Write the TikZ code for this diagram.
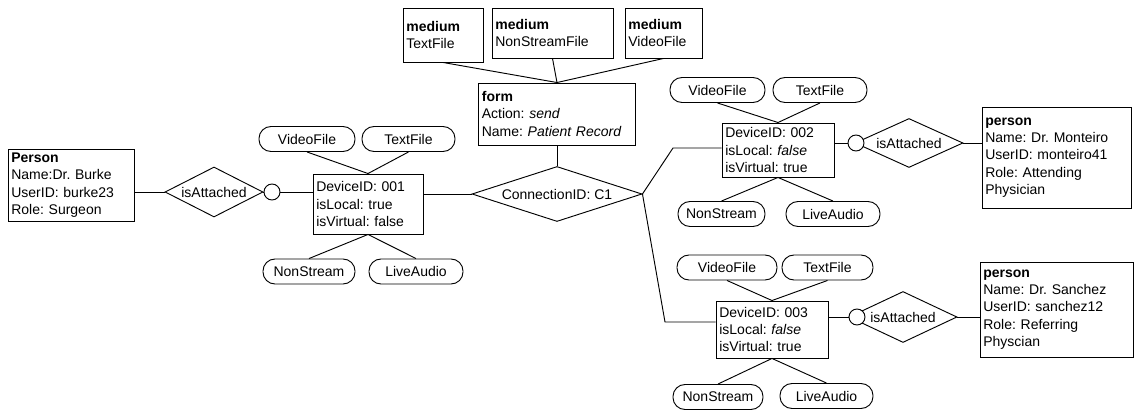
\documentclass[tikz,border=0pt]{standalone}
\usepackage{fontspec}
\setmainfont{Liberation Sans}
\frenchspacing
\usetikzlibrary{positioning,shapes.geometric}

\begin{document}
\begin{tikzpicture}[x=0.75pt, y=-0.75pt, line width=0.7pt,
  font=\fontsize{10.5}{13}\selectfont,
  ent/.style={draw, rectangle, align=left, inner sep=2.5pt},
  attr/.style={draw, rectangle, rounded corners=9pt, minimum height=25*\pxu, inner sep=1pt},
  rel/.style={draw, diamond, inner sep=0pt},
  ring/.style={draw, fill=white, circle, minimum size=16*\pxu, inner sep=0pt}]
\def\pxu{0.75pt}
\useasboundingbox (0,0) rectangle (1136,410);

% Media and form
\node[ent, text width=80*\pxu-5pt, minimum height=54*\pxu] (m1) at (443,35) {\textbf{medium}\\TextFile};
\node[ent, text width=121*\pxu-5pt, minimum height=50*\pxu] (m2) at (552.5,33) {\textbf{medium}\\NonStreamFile};
\node[ent, text width=77*\pxu-5pt, minimum height=50*\pxu] (m3) at (663.5,33) {\textbf{medium}\\VideoFile};
\node[ent, text width=157*\pxu-5pt, minimum height=62*\pxu] (form) at (557,114) {\textbf{form}\\Action: \textit{send}\\Name: \textit{Patient Record}};

% Connection
\node[rel, minimum width=170*\pxu, minimum height=55*\pxu, aspect=3.1] (c1) at (557,194) {ConnectionID: C1};

% Device 001 (Dr. Burke)
\node[ent, text width=126*\pxu-5pt, minimum height=72*\pxu] (burke) at (71,185) {\textbf{Person}\\Name:Dr. Burke\\UserID: burke23\\Role: Surgeon};
\node[rel, minimum width=98*\pxu, minimum height=50*\pxu, aspect=2] (att1) at (214,192) {isAttached};
\node[ring] (o1) at (272,192) {};
\node[ent, text width=110*\pxu-5pt, minimum height=60*\pxu] (dev1) at (368,204) {DeviceID: 001\\isLocal: true\\isVirtual: false};
\node[attr, minimum width=96*\pxu] (v1) at (307,139) {VideoFile};
\node[attr, minimum width=93*\pxu] (t1) at (408.5,139) {TextFile};
\node[attr, minimum width=92*\pxu] (n1) at (309,271.5) {NonStream};
\node[attr, minimum width=94*\pxu] (l1) at (416,271.5) {LiveAudio};

% Device 002 (Dr. Monteiro)
\node[ent, text width=112*\pxu-5pt, minimum height=54*\pxu] (dev2) at (778,150) {DeviceID: 002\\isLocal: \textit{false}\\isVirtual: true};
\node[attr, minimum width=95*\pxu] (v2) at (717.5,90) {VideoFile};
\node[attr, minimum width=94*\pxu] (t2) at (820,90) {TextFile};
\node[attr, minimum width=87*\pxu] (n2) at (721.5,214) {NonStream};
\node[attr, minimum width=94*\pxu] (l2) at (833,214) {LiveAudio};
\node[rel, minimum width=108*\pxu, minimum height=49*\pxu, aspect=2.2] (att2) at (909,143) {isAttached};
\node[ring] (o2) at (856,143) {};
\node[ent, text width=149*\pxu-5pt, minimum height=101*\pxu] (monteiro) at (1056.5,157.5) {\textbf{person}\\Name: Dr. Monteiro\\UserID: monteiro41\\Role: Attending\\Physician};

% Device 003 (Dr. Sanchez)
\node[ent, text width=112*\pxu-5pt, minimum height=57*\pxu] (dev3) at (772,329.5) {DeviceID: 003\\isLocal: \textit{false}\\isVirtual: true};
\node[attr, minimum width=100*\pxu] (v3) at (727,267.5) {VideoFile};
\node[attr, minimum width=91*\pxu] (t3) at (827.5,267.5) {TextFile};
\node[attr, minimum width=90*\pxu] (n3) at (718,397) {NonStream};
\node[attr, minimum width=93*\pxu] (l3) at (826.5,396) {LiveAudio};
\node[rel, minimum width=108*\pxu, minimum height=51*\pxu, aspect=2.1] (att3) at (903,317) {isAttached};
\node[ring] (o3) at (857,317) {};
\node[ent, text width=153*\pxu-5pt, minimum height=95*\pxu] (sanchez) at (1056.5,309.5) {\textbf{person}\\Name: Dr. Sanchez\\UserID: sanchez12\\Role: Referring\\Physcian};

% Bends
\coordinate (k2) at (673,148);
\coordinate (k3) at (665,322);

% Connectors
\draw (m1.south) -- (form.north);
\draw (m2.south) -- (form.north);
\draw (m3.south) -- (form.north);
\draw (form.south) -- (c1.north);
\draw (c1.west) -- (c1.west -| dev1.east);
\draw (c1.east) -- (k2) -- (k2 -| dev2.west);
\draw (c1.east) -- (k3) -- (k3 -| dev3.west);

\draw (att1.west -| burke.east) -- (att1.west);
\draw (att1.east) -- (o1.west);
\draw (o1.east) -- (o1.east -| dev1.west);
\draw (o2.west -| dev2.east) -- (o2.west);
\draw (att2.east) -- (att2.east -| monteiro.west);
\draw (o3.west -| dev3.east) -- (o3.west);
\draw (att3.east) -- (att3.east -| sanchez.west);

\draw (v1.south) -- (dev1.north) -- (t1.south);
\draw (n1.north) -- (dev1.south) -- (l1.north);
\draw (v2.south) -- (dev2.north) -- (t2.south);
\draw (n2.north) -- (dev2.south) -- (l2.north);
\draw (v3.south) -- (dev3.north) -- (t3.south);
\draw (n3.north) -- (dev3.south) -- (l3.north);

\end{tikzpicture}
\end{document}
